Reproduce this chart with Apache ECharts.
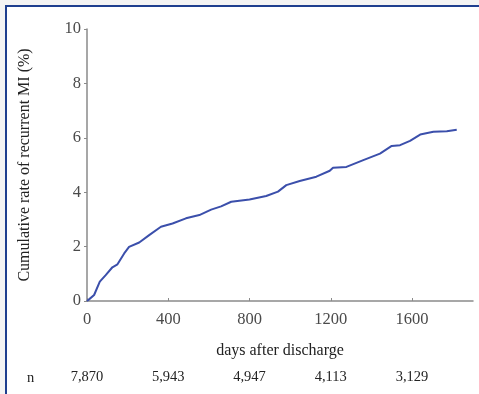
<!DOCTYPE html>
<html>
<head>
<meta charset="utf-8">
<script src="https://cdn.jsdelivr.net/npm/echarts@6/dist/echarts.min.js"></script>
<style>
  html, body { margin: 0; padding: 0; background: #f4f4f4; }
  #frame { position: absolute; left: 5px; top: 5px; width: 474px; height: 389px;
           border-left: 2px solid #1f3f8f; border-top: 2px solid #1f3f8f; background: #fff; }
  #chart { position: absolute; left: 0; top: 0; width: 479px; height: 394px; }
</style>
</head>
<body>
<div id="frame"></div>
<div id="chart"></div>
<script>
// Days after discharge and cumulative rate of recurrent MI (%)
var days  = [0, 10, 35, 63, 92, 125, 150, 183, 207, 257, 306, 364, 421, 487, 553, 611, 660, 710, 800, 882, 940, 981, 1047, 1129, 1195, 1211, 1277, 1360, 1442, 1500, 1541, 1590, 1640, 1705, 1771, 1820];
var rates = [0, 0.06, 0.22, 0.71, 0.95, 1.24, 1.35, 1.75, 1.99, 2.15, 2.42, 2.73, 2.85, 3.04, 3.16, 3.36, 3.48, 3.65, 3.73, 3.86, 4.02, 4.26, 4.41, 4.57, 4.79, 4.90, 4.93, 5.18, 5.42, 5.70, 5.73, 5.89, 6.12, 6.22, 6.24, 6.30];
var xTicks = [0, 400, 800, 1200, 1600];
var yTicks = [0, 2, 4, 6, 8, 10];
var atRisk = ['7,870', '5,943', '4,947', '4,113', '3,129'];

var chart = echarts.init(document.getElementById('chart'), null, { renderer: 'canvas' });
var serif = '"Liberation Serif", "DejaVu Serif", serif';
var points = days.map(function (d, i) { return [d, rates[i]]; });

chart.setOption({
  animation: false,
  backgroundColor: 'transparent',
  grid: { left: 87, right: 6, top: 29, bottom: 93 },
  xAxis: [{
    type: 'value', min: 0, max: 1900, interval: 400,
    name: 'days after discharge', nameLocation: 'middle', nameGap: 42,
    nameTextStyle: { fontFamily: serif, fontSize: 16, color: '#222' },
    axisLine: { show: true, lineStyle: { color: '#8a8a8a', width: 1.5 } },
    axisTick: { show: true, inside: true, length: 3, customValues: xTicks, lineStyle: { color: '#8a8a8a' } },
    splitLine: { show: false },
    axisLabel: {
      fontFamily: serif, fontSize: 16.5, color: '#4a4a4a', margin: 10, customValues: xTicks,
      formatter: function (v) { return String(v); }
    }
  }, {
    type: 'value', min: 0, max: 1900, interval: 400, position: 'bottom', offset: 69,
    axisLine: { show: false }, axisTick: { show: false }, splitLine: { show: false },
    axisLabel: {
      fontFamily: serif, fontSize: 14.5, color: '#222', margin: 0, customValues: xTicks,
      formatter: function (v) { var i = xTicks.indexOf(v); return i >= 0 ? atRisk[i] : ''; }
    }
  }],
  yAxis: {
    type: 'value', min: 0, max: 10, interval: 2,
    name: 'Cumulative rate of recurrent MI (%)', nameLocation: 'middle', nameGap: 54,
    nameTextStyle: { fontFamily: serif, fontSize: 16, color: '#222' },
    axisLine: { show: true, lineStyle: { color: '#8a8a8a', width: 1.5 } },
    axisTick: { show: true, length: 3, lineStyle: { color: '#8a8a8a' } },
    splitLine: { show: false },
    axisLabel: {
      fontFamily: serif, fontSize: 16.5, color: '#4a4a4a', margin: 6,
      formatter: function (v) { return yTicks.indexOf(v) >= 0 ? String(v) : ''; }
    }
  },
  series: [{
    type: 'line', xAxisIndex: 0, data: points, showSymbol: false, smooth: false,
    lineStyle: { color: '#3b4fab', width: 2 }
  }],
  graphic: [{
    type: 'text', left: 27, top: 371,
    style: { text: 'n', font: '14.5px ' + serif, fill: '#222' }
  }]
});
</script>
</body>
</html>
